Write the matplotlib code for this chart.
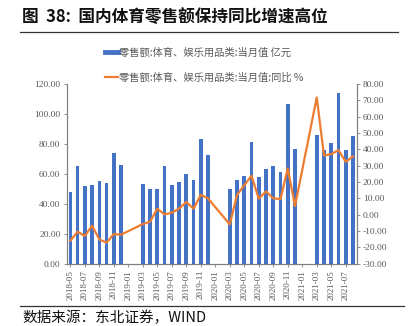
import numpy as np
import matplotlib
matplotlib.use("Agg")
import matplotlib.pyplot as plt
from matplotlib.lines import Line2D

plt.rcParams['font.family'] = ['Noto Sans CJK SC', 'DejaVu Sans']

# monthly, 2018-05 .. 2021-08 (Jan/Feb not published)
months = []
for y in range(2018, 2022):
    for m in range(1, 13):
        if (y, m) < (2018, 5) or (y, m) > (2021, 8):
            continue
        months.append(f"{y}-{m:02d}")

nan = np.nan
sales = [48.1, 65.2, 52.1, 52.3, 55.2, 54.1, 73.7, 65.7,
         nan, nan, 53.2, 49.9, 50.1, 65.2, 52.8, 54.6, 59.7, 56.1, 83.1, 72.4,
         nan, nan, 50.1, 55.9, 58.8, 81.3, 57.7, 63.0, 65.4, 61.2, 106.6, 76.4,
         nan, nan, 85.9, 75.7, 80.8, 113.8, 75.9, 85.3]
yoy = [-15.9, -10.4, -13.0, -6.7, -15.1, -17.1, -11.8, -12.2,
       nan, nan, -5.7, -4.3, 3.7, 0.2, 1.2, 3.7, 7.8, 3.7, 12.2, 10.0,
       nan, nan, -5.9, 12.1, 18.0, 23.9, 9.8, 14.3, 10.0, 9.6, 28.4, 5.3,
       nan, nan, 71.8, 36.3, 37.1, 39.6, 32.4, 35.7]

label_bar = "零售额:体育、娱乐用品类:当月值 亿元"
label_line = "零售额:体育、娱乐用品类:当月值:同比 %"

bar_c = "#4472C4"
line_c = "#ED7D31"
grey = "#595959"
serif = ['Liberation Serif', 'DejaVu Serif']

fig = plt.figure(figsize=(4.08, 3.26), dpi=100)
ax = fig.add_axes([0.1635, 0.191, 0.7105, 0.551])
ax2 = ax.twinx()

x = np.arange(len(months))
ax.bar(x, sales, width=0.5, color=bar_c, zorder=2)

yo = np.array(yoy)
ok = ~np.isnan(yo)
ax2.plot(x[ok], yo[ok], color=line_c, lw=1.6, zorder=3)

ax.set_xlim(-0.5, len(months) - 0.5)
ax.set_ylim(0, 120)
ax.set_yticks(np.arange(0, 121, 20))
ax.set_yticklabels([f"{v:.2f}" for v in np.arange(0, 121, 20)])
ax2.set_ylim(-30, 80)
ax2.set_yticks(np.arange(-30, 81, 10))
ax2.set_yticklabels([f"{v:.2f}" for v in np.arange(-30, 81, 10)])

ax.set_xticks(x[::2])
ax.set_xticklabels(months[::2], rotation=90)

for a in (ax, ax2):
    a.spines['top'].set_visible(False)
    for s in ('left', 'right', 'bottom'):
        a.spines[s].set_color('#808080')
        a.spines[s].set_linewidth(0.8)
    a.tick_params(length=2.5, width=0.6, color='#808080', labelcolor=grey, labelsize=6.8, pad=2)
    for t in a.get_yticklabels() + a.get_xticklabels():
        t.set_family(serif)
ax.tick_params(axis='x', labelsize=6.5)

handles = [Line2D([0], [0], color=bar_c, lw=3.5), Line2D([0], [0], color=line_c, lw=1.6)]
leg = fig.legend(handles, [label_bar, label_line], loc='center', bbox_to_anchor=(0.5, 0.8),
                 frameon=False, fontsize=7.4, labelspacing=1.45, handlelength=1.3,
                 handletextpad=0.1, labelcolor=grey)

fig.text(0.054, 0.948, "图  38:  国内体育零售额保持同比增速高位", fontsize=12,
         fontweight='bold', va='center', ha='left', color='#111111')
fig.add_artist(Line2D([0.05, 0.975], [0.901, 0.901], color='#333333', lw=0.9))
fig.add_artist(Line2D([0.05, 0.99], [0.061, 0.061], color='#333333', lw=0.9))
fig.text(0.054, 0.003, "数据来源：东北证券，WIND", fontsize=10.5, va='bottom', ha='left', color='#111111')

fig.savefig("out.png", dpi=100)
